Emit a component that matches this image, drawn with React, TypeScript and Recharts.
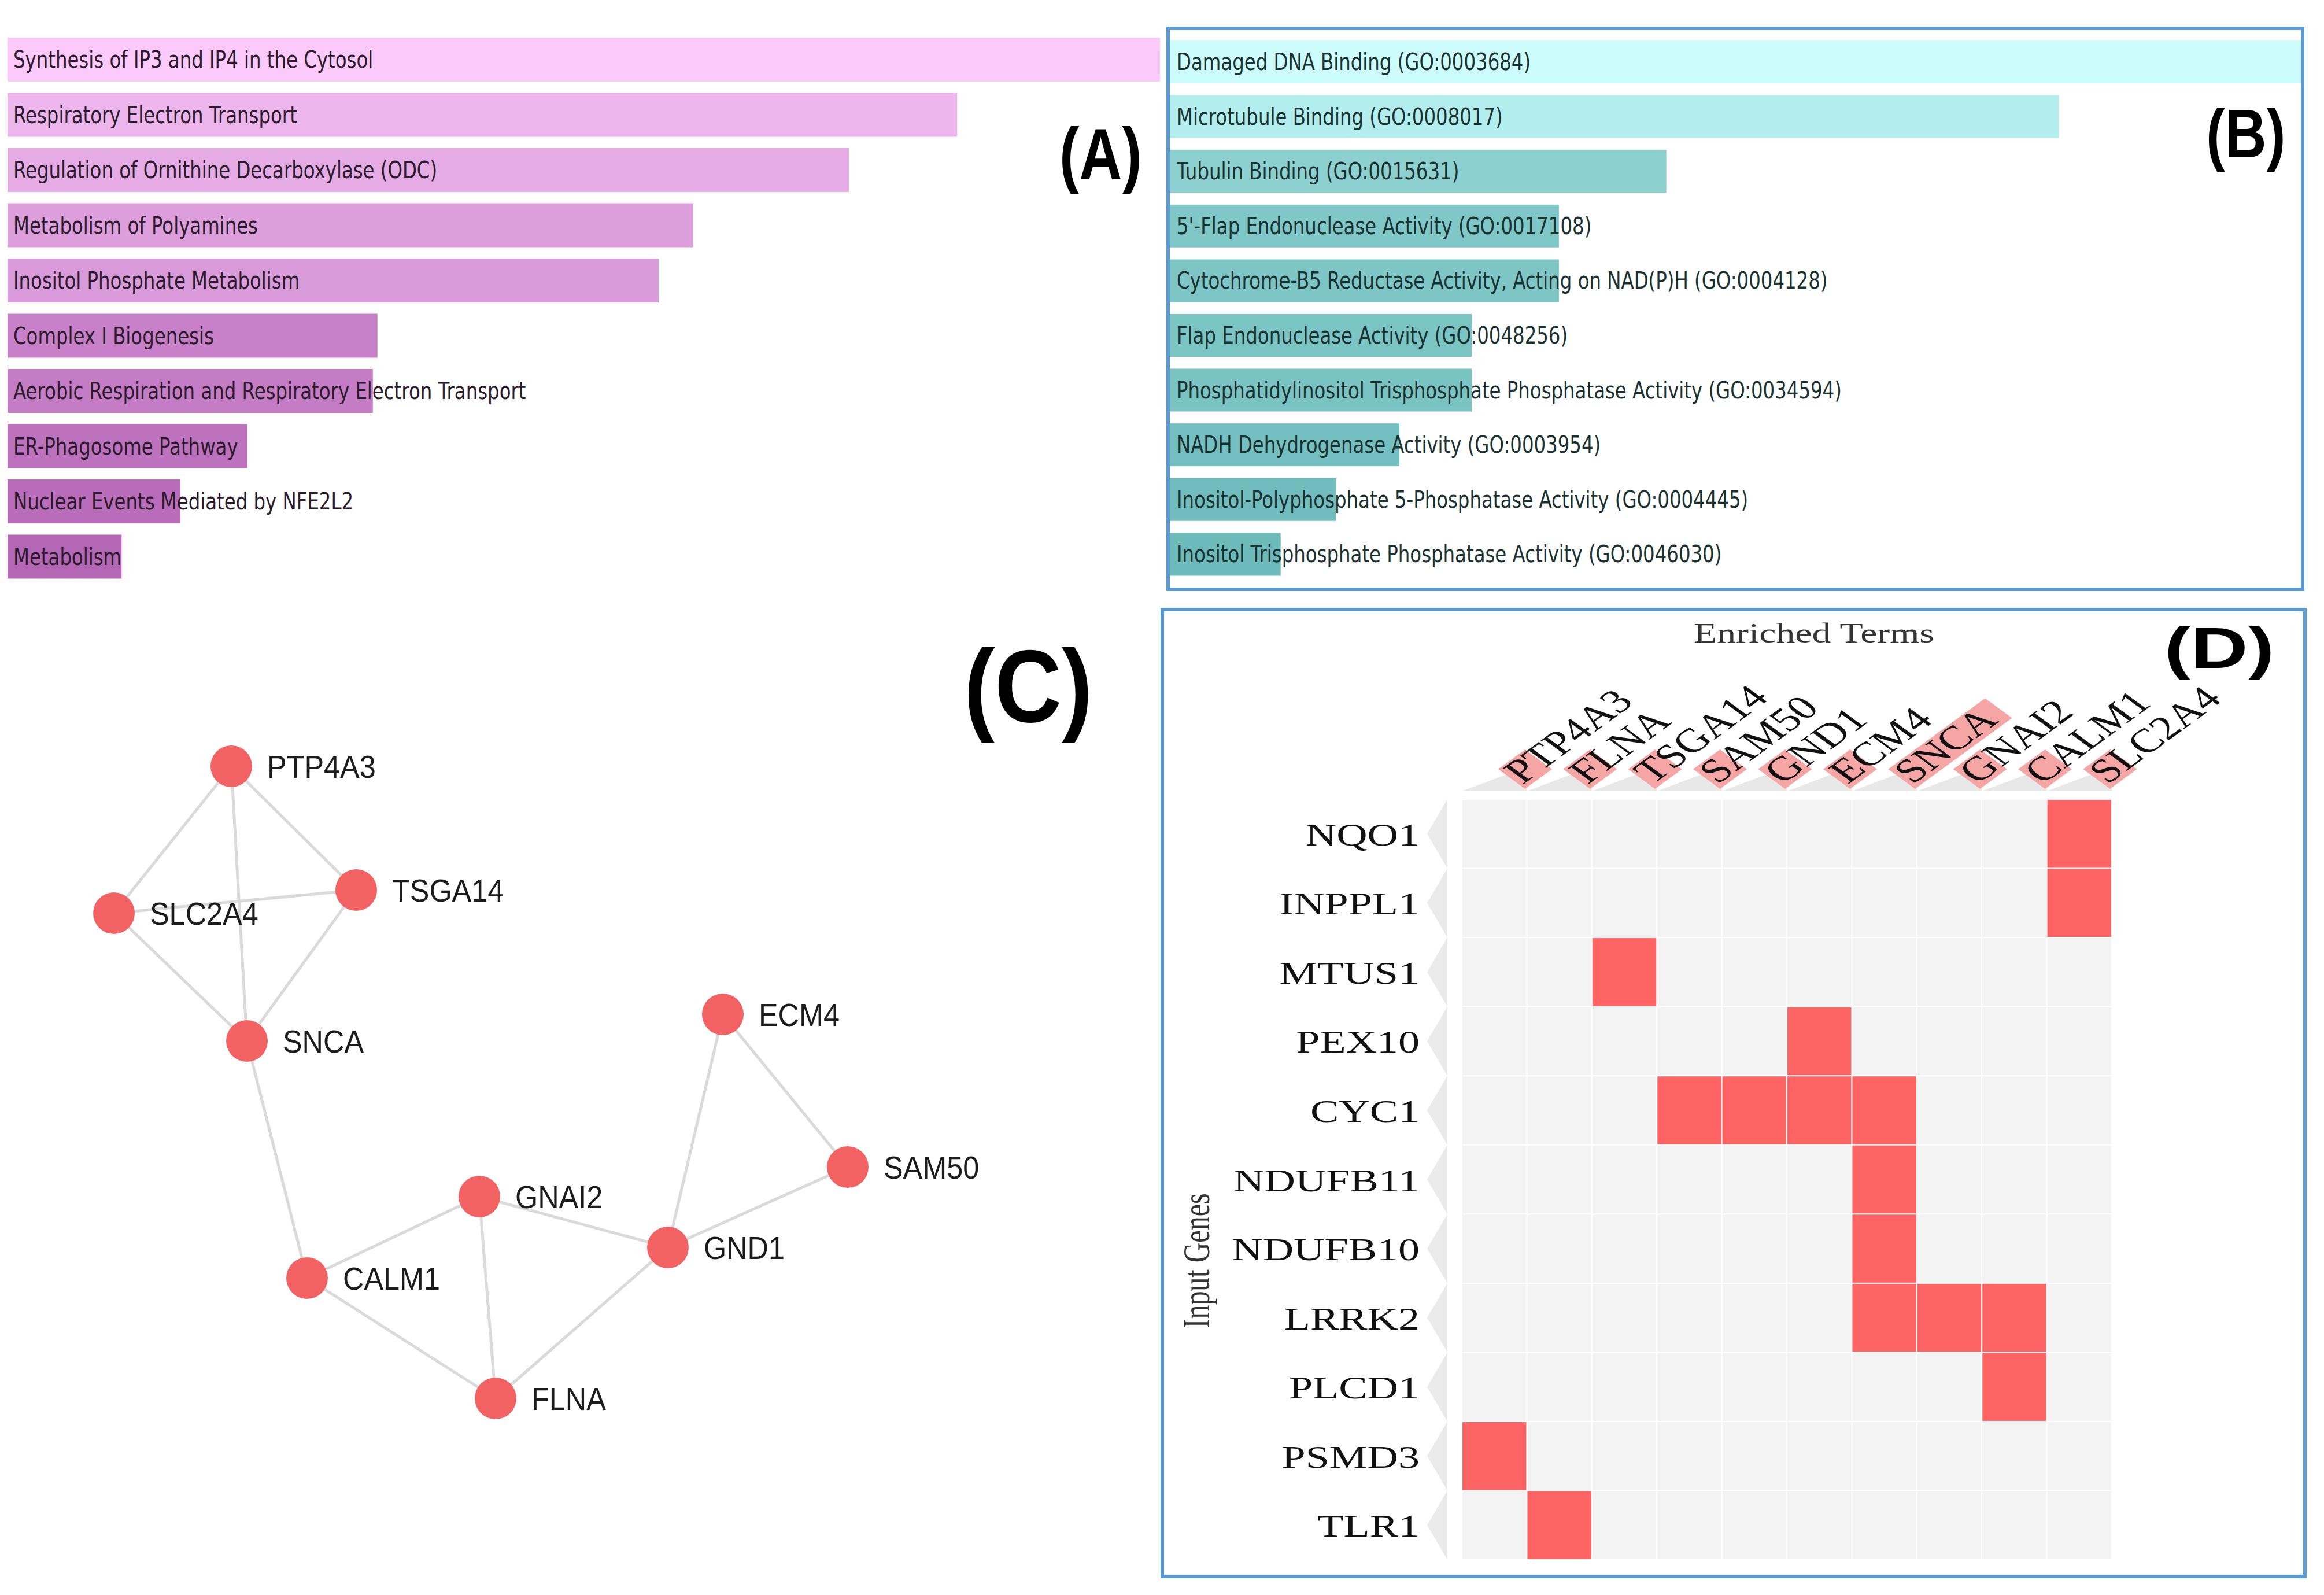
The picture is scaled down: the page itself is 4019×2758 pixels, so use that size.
import React from 'react';
import { Bar, BarChart, Cell, LabelList, ReferenceLine, Scatter, ScatterChart, XAxis, YAxis } from 'recharts';

// (A) enriched pathways
const pathwayNames = [
  'Synthesis of IP3 and IP4 in the Cytosol',
  'Respiratory Electron Transport',
  'Regulation of Ornithine Decarboxylase (ODC)',
  'Metabolism of Polyamines',
  'Inositol Phosphate Metabolism',
  'Complex I Biogenesis',
  'Aerobic Respiration and Respiratory Electron Transport',
  'ER-Phagosome Pathway',
  'Nuclear Events Mediated by NFE2L2',
  'Metabolism',
];
const pathwayScores = [100, 82.4, 73.0, 59.5, 56.5, 32.1, 31.7, 20.8, 15.0, 9.9];
const pathwayColors = ['#fbcafb', '#ecb6ec', '#e5abe5', '#dc9fdc', '#d99ad9', '#c880c8', '#c47cc4', '#bc72bc', '#b96cb9', '#b467b4'];

// (B) GO molecular function
const goNames = [
  'Damaged DNA Binding (GO:0003684)',
  'Microtubule Binding (GO:0008017)',
  'Tubulin Binding (GO:0015631)',
  "5'-Flap Endonuclease Activity (GO:0017108)",
  'Cytochrome-B5 Reductase Activity, Acting on NAD(P)H (GO:0004128)',
  'Flap Endonuclease Activity (GO:0048256)',
  'Phosphatidylinositol Trisphosphate Phosphatase Activity (GO:0034594)',
  'NADH Dehydrogenase Activity (GO:0003954)',
  'Inositol-Polyphosphate 5-Phosphatase Activity (GO:0004445)',
  'Inositol Trisphosphate Phosphatase Activity (GO:0046030)',
];
const goScores = [100, 78.6, 43.9, 34.4, 34.4, 26.7, 26.7, 20.3, 14.7, 9.8];
const goColors = ['#cdfcfc', '#b3eeee', '#8dd0d0', '#80c8c8', '#7ec6c6', '#7bc4c4', '#7ac3c3', '#74bfbf', '#71bdbd', '#6dbaba'];

// (C) interaction network, layout units
const nodeNames = ['PTP4A3', 'TSGA14', 'SLC2A4', 'SNCA', 'ECM4', 'SAM50', 'GNAI2', 'GND1', 'CALM1', 'FLNA'];
const nodeX = [40, 61.6, 19.7, 42.7, 125, 146.6, 82.9, 115.5, 53.1, 85.7];
const nodeY = [22.5, 43.9, 47.9, 70, 65.4, 91.8, 96.9, 105.7, 111, 131.8];
const edges = [
  ['PTP4A3', 'SLC2A4'], ['PTP4A3', 'TSGA14'], ['PTP4A3', 'SNCA'], ['SLC2A4', 'TSGA14'],
  ['SLC2A4', 'SNCA'], ['TSGA14', 'SNCA'], ['SNCA', 'CALM1'], ['CALM1', 'GNAI2'],
  ['CALM1', 'FLNA'], ['GNAI2', 'FLNA'], ['GNAI2', 'GND1'], ['GND1', 'FLNA'],
  ['GND1', 'ECM4'], ['GND1', 'SAM50'], ['ECM4', 'SAM50'],
];

// (D) clustergram
const inputGenes = ['NQO1', 'INPPL1', 'MTUS1', 'PEX10', 'CYC1', 'NDUFB11', 'NDUFB10', 'LRRK2', 'PLCD1', 'PSMD3', 'TLR1'];
const enrichedTerms = ['PTP4A3', 'FLNA', 'TSGA14', 'SAM50', 'GND1', 'ECM4', 'SNCA', 'GNAI2', 'CALM1', 'SLC2A4'];
const termBar = [1, 1, 1, 1, 1, 1, 3.6, 1, 1, 1];
const hits = [
  ['NQO1', 'SLC2A4'], ['INPPL1', 'SLC2A4'], ['MTUS1', 'TSGA14'], ['PEX10', 'ECM4'],
  ['CYC1', 'SAM50'], ['CYC1', 'GND1'], ['CYC1', 'ECM4'], ['CYC1', 'SNCA'],
  ['NDUFB11', 'SNCA'], ['NDUFB10', 'SNCA'],
  ['LRRK2', 'SNCA'], ['LRRK2', 'GNAI2'], ['LRRK2', 'CALM1'],
  ['PLCD1', 'CALM1'], ['PSMD3', 'PTP4A3'], ['TLR1', 'FLNA'],
];

const BORDER = '#5b9bd5';
const SANS = '"DejaVu Sans", Verdana, sans-serif';
const SERIF = '"Liberation Serif", "Times New Roman", serif';

const pathwayData = pathwayNames.map((name, i) => ({ name, value: pathwayScores[i] }));
const goData = goNames.map((name, i) => ({ name, value: goScores[i] }));
const nodeData = nodeNames.map((name, i) => ({ name, x: nodeX[i], y: nodeY[i] }));
const nodeOf = (n: string) => nodeData.find((d) => d.name === n)!;
const cellData = inputGenes.flatMap((gene, i) =>
  enrichedTerms.map((term, j) => ({
    gene,
    term,
    col: j + 0.5,
    row: i + 0.5,
    hit: hits.some(([g, t]) => g === gene && t === term) ? 1 : 0,
  }))
);

// bar label drawn from the bar's left edge
const barLabel = (dx: number, color: string) => (props: any) => {
  const { x, y, height, value } = props;
  return (
    <text
      transform={`translate(${x + dx},${y + height / 2 + 14}) scale(0.81,1)`}
      fontFamily={SANS}
      fontSize={40}
      fill={color}
    >
      {value}
    </text>
  );
};

// clustergram geometry (chart coordinates inside box D)
const D_W = 1970;
const D_H = 1666;
const PLOT_L = 515;
const PLOT_T = 325;
const PLOT_W = 1124;
const PLOT_H = 1315;
const CELL_W = PLOT_W / enrichedTerms.length;
const CELL_H = PLOT_H / inputGenes.length;
const SX = 1.37;
const HEAD_BASE = 311;

const TermTick = (props: any) => {
  const { x, payload } = props;
  const i = Math.floor(payload.value);
  const right = x + CELL_W / 2;
  const a = 34;
  const b = a * termBar[i];
  return (
    <g>
      <polygon points={`${x - CELL_W / 2},${HEAD_BASE} ${right},${HEAD_BASE} ${right},${HEAD_BASE - 42}`} fill="#e8e8e8" />
      <g transform={`translate(${right - 3},${HEAD_BASE - 4}) scale(${SX},1)`}>
        <polygon points={`0,0 ${b},${-b} ${b - a},${-b - a} ${-a},${-a}`} fill="#f6a5a5" />
        <text transform="rotate(-45)" x={3} y={-7} fontFamily={SERIF} fontSize={58} fill="#111">
          {enrichedTerms[i]}
        </text>
      </g>
    </g>
  );
};

const GeneTick = (props: any) => {
  const { y, payload } = props;
  const i = Math.floor(payload.value);
  return (
    <g>
      <polygon points={`490,${y - CELL_H / 2} 490,${y + CELL_H / 2} 455,${y}`} fill="#ebebeb" />
      <text
        transform={`translate(442,${y + 20}) scale(${SX},1)`}
        textAnchor="end"
        fontFamily={SERIF}
        fontSize={54}
        fill="#111"
      >
        {inputGenes[i]}
      </text>
    </g>
  );
};

const CellShape = (props: any) => {
  const { cx, cy, payload } = props;
  return (
    <rect
      x={cx - CELL_W / 2 + 1}
      y={cy - CELL_H / 2 + 1}
      width={CELL_W - 2}
      height={CELL_H - 2}
      fill={payload.hit ? '#ff6464' : '#f3f3f3'}
    />
  );
};

const NodeShape = (props: any) => {
  const { cx, cy, payload } = props;
  return (
    <g>
      <circle cx={cx} cy={cy} r={36} fill="#f26262" />
      <text
        transform={`translate(${cx + 62},${cy + 20}) scale(0.9,1)`}
        fontFamily='"Liberation Sans", Arial, sans-serif'
        fontSize={56}
        fill="#1c1c1c"
      >
        {payload.name}
      </text>
    </g>
  );
};

const panelLabel = (text: string, x: number, y: number, size: number, sx: number) => (
  <text
    transform={`translate(${x},${y}) scale(${sx},1)`}
    fontFamily='"Liberation Sans", Arial, sans-serif'
    fontWeight="bold"
    fontSize={size}
    fill="#000"
  >
    {text}
  </text>
);

export default function App() {
  return (
    <div style={{ position: 'absolute', left: 0, top: 0, width: 4019, height: 2758, background: '#fff', overflow: 'hidden' }}>
      {/* (A) */}
      <div style={{ position: 'absolute', left: 0, top: 0 }}>
        <BarChart width={2010} height={1010} data={pathwayData} layout="vertical" margin={{ top: 55, right: 4, bottom: 0, left: 13 }}>
          <XAxis type="number" domain={[0, 100]} hide />
          <YAxis type="category" dataKey="name" hide />
          <Bar dataKey="value" barSize={76} isAnimationActive={false}>
            {pathwayData.map((d, i) => (
              <Cell key={d.name} fill={pathwayColors[i]} />
            ))}
            <LabelList dataKey="name" content={barLabel(10, '#2a1a2c')} />
          </Bar>
        </BarChart>
      </div>

      {/* (B) */}
      <div style={{ position: 'absolute', left: 2017, top: 46, width: 1968, height: 976, border: `6px solid ${BORDER}`, boxSizing: 'border-box' }}>
        <BarChart width={1956} height={964} data={goData} layout="vertical" margin={{ top: 8, right: 0, bottom: 10, left: 0 }}>
          <XAxis type="number" domain={[0, 100]} hide />
          <YAxis type="category" dataKey="name" hide />
          <Bar dataKey="value" barSize={74} isAnimationActive={false}>
            {goData.map((d, i) => (
              <Cell key={d.name} fill={goColors[i]} />
            ))}
            <LabelList dataKey="name" content={barLabel(12, '#1a3131')} />
          </Bar>
        </BarChart>
      </div>

      {/* (C) */}
      <div style={{ position: 'absolute', left: 0, top: 1100 }}>
        <ScatterChart width={1900} height={1400} margin={{ top: 0, right: 0, bottom: 0, left: 0 }}>
          <XAxis type="number" dataKey="x" domain={[0, 190]} hide />
          <YAxis type="number" dataKey="y" domain={[0, 140]} reversed hide />
          {edges.map(([s, t]) => (
            <ReferenceLine
              key={s + t}
              segment={[{ x: nodeOf(s).x, y: nodeOf(s).y }, { x: nodeOf(t).x, y: nodeOf(t).y }]}
              stroke="#dadada"
              strokeWidth={5}
            />
          ))}
          <Scatter data={nodeData} shape={NodeShape} isAnimationActive={false} />
        </ScatterChart>
      </div>

      {/* (D) */}
      <div style={{ position: 'absolute', left: 2007, top: 1051, width: 1982, height: 1678, border: `6px solid ${BORDER}`, boxSizing: 'border-box' }}>
        <ScatterChart
          width={D_W}
          height={D_H}
          margin={{ top: 0, right: D_W - PLOT_L - PLOT_W, bottom: D_H - PLOT_T - PLOT_H, left: 0 }}
        >
          <XAxis
            type="number"
            dataKey="col"
            orientation="top"
            domain={[0, enrichedTerms.length]}
            ticks={enrichedTerms.map((_, j) => j + 0.5)}
            interval={0}
            height={PLOT_T}
            axisLine={false}
            tickLine={false}
            tick={TermTick}
          />
          <YAxis
            type="number"
            dataKey="row"
            domain={[0, inputGenes.length]}
            ticks={inputGenes.map((_, i) => i + 0.5)}
            interval={0}
            reversed
            width={PLOT_L}
            axisLine={false}
            tickLine={false}
            tick={GeneTick}
          />
          <Scatter data={cellData} shape={CellShape} isAnimationActive={false} />
          <text transform={`translate(1124,54) scale(${SX},1)`} textAnchor="middle" fontFamily={SERIF} fontSize={48} fill="#333">
            Enriched Terms
          </text>
          <text transform={`translate(78,1123) scale(${SX},1) rotate(-90)`} textAnchor="middle" fontFamily={SERIF} fontSize={48} fill="#333">
            Input Genes
          </text>
        </ScatterChart>
      </div>

      <svg width={4019} height={2758} style={{ position: 'absolute', left: 0, top: 0, pointerEvents: 'none' }}>
        {panelLabel('(A)', 1832, 310, 127, 0.81)}
        {panelLabel('(B)', 3815, 272, 118, 0.84)}
        {panelLabel('(C)', 1667, 1248, 178, 0.9)}
        {panelLabel('(D)', 3743, 1155, 100, 1.37)}
      </svg>
    </div>
  );
}
